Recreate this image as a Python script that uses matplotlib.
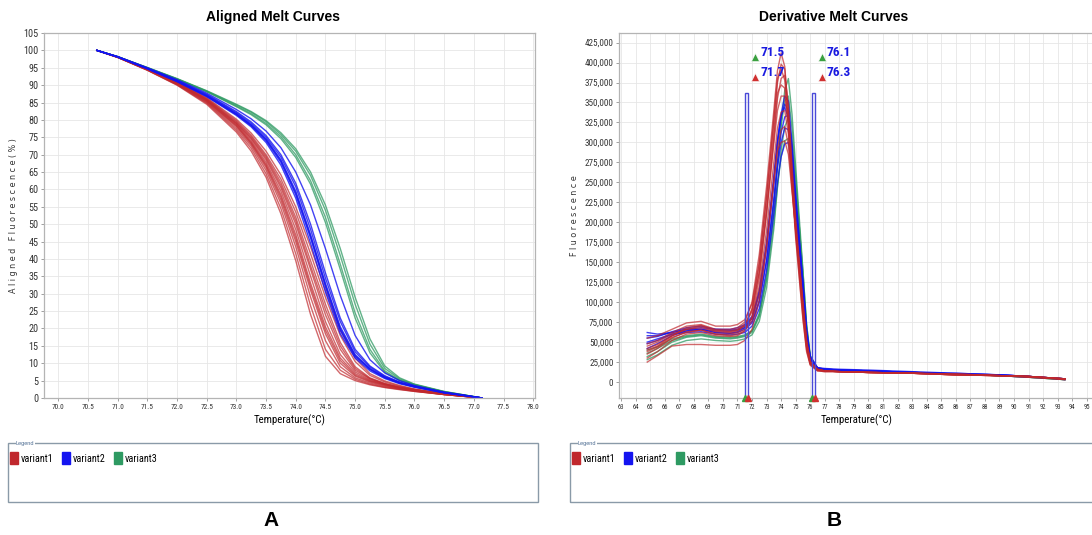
import numpy as np
import matplotlib
matplotlib.use("Agg")
import matplotlib.pyplot as plt
import matplotlib.transforms as mtransforms
from matplotlib import font_manager
from matplotlib.patches import Rectangle, Patch
from matplotlib.ticker import FuncFormatter, MultipleLocator

_fonts = {f.name for f in font_manager.fontManager.ttflist}
NARROW = next((f for f in ["Liberation Sans Narrow", "Roboto Condensed", "DejaVu Sans"]
               if f in _fonts), "DejaVu Sans")
SANS = "Liberation Sans" if "Liberation Sans" in _fonts else "DejaVu Sans"
NARROW_KW = dict(family=NARROW, stretch="condensed")

# ─── data: aligned melt curves (% fluorescence) ──────────────────────────────
melt_temps = [70.65, 71.0, 71.5, 72.0, 72.5, 73.0, 73.25, 73.5, 73.75, 74.0,
              74.25, 74.5, 74.75, 75.0, 75.25, 75.5, 75.75, 76.0, 76.5, 77.14]

variant1_melt = [
    [100, 98.0, 94.3, 90.0, 84.5, 76.5, 71.0, 63.5, 53.0, 39.5, 24.0, 12.0, 7.0, 5.0, 3.8, 3.0, 2.4, 1.9, 1.0, 0],
    [100, 98.0, 94.4, 90.2, 85.0, 77.5, 72.5, 65.5, 56.0, 43.5, 29.0, 16.5, 9.0, 5.8, 4.3, 3.3, 2.6, 2.0, 1.0, 0],
    [100, 98.0, 94.5, 90.5, 85.5, 78.5, 73.6, 67.2, 58.5, 47.0, 33.0, 20.5, 11.5, 7.0, 5.0, 3.8, 2.9, 2.2, 1.1, 0],
    [100, 98.1, 94.6, 90.7, 85.8, 79.0, 74.5, 68.5, 60.5, 50.0, 37.0, 24.0, 14.0, 8.0, 5.5, 4.0, 3.0, 2.3, 1.1, 0],
    [100, 98.1, 94.7, 90.8, 86.0, 79.5, 75.2, 69.5, 62.0, 52.0, 39.5, 27.0, 16.0, 9.0, 5.8, 4.2, 3.2, 2.4, 1.2, 0],
    [100, 98.1, 94.6, 90.6, 85.6, 78.8, 74.0, 67.8, 59.5, 48.5, 35.0, 22.0, 12.5, 7.5, 5.2, 3.9, 3.0, 2.3, 1.1, 0],
    [100, 98.0, 94.4, 90.3, 85.2, 78.0, 73.0, 66.3, 57.0, 45.0, 31.0, 18.5, 10.0, 6.3, 4.6, 3.5, 2.7, 2.1, 1.0, 0],
    [100, 98.1, 94.7, 90.9, 86.2, 79.8, 75.6, 70.0, 63.0, 53.5, 41.5, 29.0, 18.0, 10.5, 6.5, 4.6, 3.4, 2.5, 1.2, 0],
    [100, 98.0, 94.3, 90.1, 84.8, 77.0, 71.8, 64.5, 54.5, 41.5, 26.5, 14.0, 8.0, 5.4, 4.0, 3.1, 2.5, 1.9, 1.0, 0],
    [100, 98.1, 94.6, 90.7, 85.9, 79.2, 74.8, 69.0, 61.2, 51.0, 38.0, 25.5, 15.0, 8.5, 5.6, 4.1, 3.1, 2.4, 1.2, 0],
    [100, 98.0, 94.5, 90.4, 85.4, 78.3, 73.3, 66.8, 57.8, 46.0, 32.0, 19.5, 10.8, 6.6, 4.8, 3.7, 2.8, 2.1, 1.0, 0],
    [100, 98.1, 94.8, 91.0, 86.4, 80.2, 76.2, 71.0, 64.2, 55.0, 43.5, 31.0, 19.5, 11.5, 7.0, 4.9, 3.6, 2.6, 1.3, 0],
]
variant2_melt = [
    [100, 98.1, 94.7, 91.0, 86.7, 81.3, 78.0, 73.5, 67.0, 57.5, 44.5, 30.5, 18.5, 11.5, 7.8, 5.6, 4.1, 3.1, 1.5, 0],
    [100, 98.1, 94.8, 91.2, 87.0, 81.8, 78.6, 74.5, 68.5, 59.5, 47.0, 33.0, 20.5, 12.5, 8.5, 6.0, 4.4, 3.3, 1.6, 0],
    [100, 98.2, 94.9, 91.3, 87.2, 82.1, 79.0, 75.0, 69.3, 60.8, 48.5, 34.5, 22.0, 13.3, 8.9, 6.2, 4.5, 3.4, 1.6, 0],
    [100, 98.1, 94.7, 91.1, 86.8, 81.5, 78.3, 74.0, 67.8, 58.5, 46.0, 32.0, 19.5, 12.0, 8.2, 5.8, 4.3, 3.2, 1.5, 0],
    [100, 98.2, 94.9, 91.4, 87.4, 82.4, 79.4, 75.5, 70.0, 61.8, 50.0, 36.0, 23.0, 14.0, 9.2, 6.4, 4.6, 3.4, 1.6, 0],
    [100, 98.1, 94.8, 91.1, 86.9, 81.7, 78.5, 74.3, 68.2, 59.0, 46.5, 32.5, 20.0, 12.2, 8.3, 5.9, 4.3, 3.2, 1.5, 0],
    [100, 98.2, 95.0, 91.6, 87.7, 83.0, 80.3, 76.8, 72.0, 65.0, 55.5, 43.0, 29.5, 18.0, 11.0, 7.2, 5.0, 3.6, 1.7, 0],
]
variant3_melt = [
    [100, 98.2, 95.0, 91.8, 88.2, 84.0, 81.8, 79.0, 75.2, 70.0, 62.5, 52.0, 38.5, 24.5, 14.0, 7.8, 5.2, 3.8, 1.8, 0],
    [100, 98.2, 95.0, 91.8, 88.3, 84.3, 82.2, 79.5, 75.8, 71.0, 64.0, 54.0, 41.0, 27.0, 15.5, 8.5, 5.5, 3.9, 1.8, 0],
    [100, 98.2, 95.1, 91.9, 88.4, 84.5, 82.4, 79.8, 76.3, 71.7, 65.0, 55.5, 43.0, 29.0, 17.0, 9.2, 5.8, 4.0, 1.9, 0],
    [100, 98.2, 95.0, 91.7, 88.1, 83.8, 81.5, 78.6, 74.6, 69.2, 61.5, 50.5, 37.0, 23.0, 13.0, 7.4, 5.0, 3.7, 1.8, 0],
]

# ─── data: derivative melt curves (fluorescence, thousands) ──────────────────
deriv_temps = [64.8, 65.5, 66.5, 67.5, 68.5, 69.5, 70.5, 71.0, 71.5, 72.0,
               72.5, 73.0, 73.5, 73.75, 74.0, 74.25, 74.5, 74.75, 75.0, 75.5,
               75.75, 76.0, 76.5, 77.0, 78.0, 80.0, 83.0, 86.0, 89.0, 91.0, 93.5]

variant1_deriv_k = [
    [48, 52, 62, 70, 72, 66, 66, 68, 75, 100, 160, 245, 340, 390, 412, 395, 335, 255, 185, 80, 40, 22, 14, 13, 13, 12, 11, 9, 8, 7, 3],
    [40, 45, 58, 66, 68, 63, 62, 64, 70, 92, 148, 232, 325, 375, 398, 392, 340, 262, 195, 88, 44, 23, 15, 14, 13, 12, 11, 10, 8, 6, 4],
    [30, 38, 52, 60, 62, 58, 57, 58, 64, 82, 130, 210, 305, 355, 380, 384, 345, 272, 205, 98, 50, 25, 15, 14, 13, 12, 11, 9, 8, 7, 4],
    [45, 50, 60, 66, 70, 64, 64, 66, 72, 90, 138, 212, 298, 340, 358, 358, 322, 255, 195, 92, 46, 24, 15, 14, 13, 12, 11, 10, 8, 7, 4],
    [35, 42, 55, 63, 65, 60, 60, 62, 66, 80, 120, 190, 275, 318, 338, 340, 310, 250, 195, 96, 50, 25, 16, 14, 13, 12, 11, 9, 8, 7, 4],
    [25, 33, 45, 47, 47, 46, 46, 47, 52, 66, 102, 168, 250, 292, 316, 320, 296, 242, 190, 96, 50, 25, 15, 14, 13, 12, 11, 9, 8, 6, 3],
    [55, 58, 66, 74, 76, 70, 70, 72, 78, 98, 150, 232, 330, 380, 392, 378, 322, 245, 180, 78, 38, 21, 14, 13, 13, 12, 11, 9, 8, 7, 4],
    [38, 44, 56, 62, 65, 60, 58, 60, 64, 76, 110, 172, 252, 290, 300, 302, 285, 238, 192, 100, 52, 26, 16, 14, 13, 12, 11, 10, 8, 7, 4],
    [42, 47, 58, 68, 71, 65, 63, 65, 71, 88, 138, 218, 312, 362, 372, 368, 325, 252, 190, 88, 44, 23, 15, 14, 13, 12, 11, 9, 8, 7, 4],
]
variant2_deriv_k = [
    [62, 60, 62, 66, 68, 66, 66, 68, 72, 82, 112, 170, 252, 300, 335, 358, 352, 300, 235, 122, 62, 30, 18, 17, 16, 15, 13, 11, 9, 7, 4],
    [55, 57, 63, 68, 70, 66, 65, 66, 70, 80, 110, 168, 250, 298, 332, 348, 340, 288, 225, 112, 56, 28, 17, 16, 15, 14, 12, 10, 9, 7, 4],
    [48, 52, 60, 64, 66, 62, 61, 62, 66, 74, 100, 152, 230, 276, 312, 332, 334, 290, 232, 125, 65, 31, 18, 16, 15, 14, 12, 10, 9, 7, 4],
    [58, 58, 62, 66, 66, 64, 64, 65, 68, 76, 102, 152, 226, 268, 300, 318, 316, 276, 222, 118, 60, 30, 17, 16, 15, 14, 12, 11, 9, 7, 3],
    [42, 48, 58, 64, 66, 62, 61, 63, 68, 80, 115, 176, 258, 304, 334, 344, 330, 274, 212, 105, 52, 27, 17, 16, 15, 14, 12, 10, 8, 6, 4],
    [50, 54, 60, 62, 63, 60, 59, 60, 62, 70, 92, 140, 210, 250, 282, 298, 300, 266, 222, 125, 66, 32, 18, 16, 15, 14, 12, 10, 9, 7, 4],
]
variant3_deriv_k = [
    [32, 38, 50, 56, 58, 55, 54, 55, 57, 62, 82, 130, 215, 272, 325, 365, 380, 335, 270, 140, 72, 33, 17, 15, 14, 13, 12, 10, 8, 6, 3],
    [36, 42, 52, 57, 59, 56, 55, 56, 58, 64, 86, 136, 220, 274, 320, 352, 358, 318, 258, 132, 68, 31, 16, 15, 14, 13, 12, 10, 8, 6, 3],
    [28, 34, 46, 52, 54, 52, 51, 52, 54, 59, 76, 118, 192, 244, 290, 320, 330, 300, 252, 138, 72, 33, 17, 15, 14, 13, 12, 10, 8, 7, 4],
    [40, 44, 54, 58, 60, 57, 56, 57, 59, 64, 84, 128, 200, 245, 282, 302, 305, 276, 232, 122, 64, 30, 16, 15, 14, 13, 12, 10, 8, 6, 3],
]

variant_names = ["variant1", "variant2", "variant3"]
variant_colors = ["#c0282d", "#1414f0", "#2e9a62"]

# cursor pairs (peak-call windows) and their bar height
cursor_left = [71.5, 71.7]
cursor_right = [76.1, 76.3]
cursor_top = 362000

# ─── figure ───────────────────────────────────────────────────────────────────
W, H = 1092, 535
fig = plt.figure(figsize=(W / 100, H / 100), dpi=100)
fig.patch.set_facecolor("white")


def px_box(x0, y0, x1, y1):
    return [x0 / W, 1 - y1 / H, (x1 - x0) / W, (y1 - y0) / H]


def style_axes(ax):
    ax.grid(True, color="#e6e6e6", lw=0.6)
    ax.set_axisbelow(True)
    for s in ax.spines.values():
        s.set_color("#b4b4b4")
        s.set_linewidth(0.9)
    ax.tick_params(length=2, width=0.6, color="#909090", pad=2, labelcolor="#333333")


def narrow_ticks(labels, size):
    for lab in labels:
        lab.set_fontfamily(NARROW)
        lab.set_fontstretch("condensed")
        lab.set_fontsize(size)


# ─── A: aligned melt curves ─────────────────────────────────────────────────
ax1 = fig.add_axes(px_box(44, 33, 535, 398))
style_axes(ax1)
for curves, color, alpha in [(variant1_melt, variant_colors[0], 0.7),
                             (variant3_melt, variant_colors[2], 0.75),
                             (variant2_melt, variant_colors[1], 0.8)]:
    for ys in curves:
        ax1.plot(melt_temps, ys, color=color, lw=1.0, alpha=alpha)
ax1.set_xlim(69.76, 78.03)
ax1.set_ylim(0, 105)
ax1.xaxis.set_major_locator(MultipleLocator(0.5))
ax1.yaxis.set_major_locator(MultipleLocator(5))
ax1.xaxis.set_major_formatter(FuncFormatter(lambda v, p: f"{v:.1f}"))
narrow_ticks(ax1.get_xticklabels(), 5.3)
narrow_ticks(ax1.get_yticklabels(), 7.3)
ax1.set_xlabel("Temperature(°C)", fontsize=7.8, labelpad=3, **NARROW_KW)
ax1.set_ylabel("A l i g n e d   F l u o r e s c e n c e ( % )", fontsize=5.8,
               family="DejaVu Sans", color="#333333")
ax1.yaxis.set_label_coords(-0.052, 0.5)

# ─── B: derivative melt curves ──────────────────────────────────────────────
ax2 = fig.add_axes(px_box(619, 33, 1094, 398))
style_axes(ax2)
for curves, color, alpha in [(variant3_deriv_k, variant_colors[2], 0.75),
                             (variant2_deriv_k, variant_colors[1], 0.8),
                             (variant1_deriv_k, variant_colors[0], 0.7)]:
    for ys in curves:
        ax2.plot(deriv_temps, np.array(ys) * 1000, color=color, lw=1.0, alpha=alpha)
ax2.set_xlim(62.86, 95.5)
ax2.set_ylim(-20000, 437000)
ax2.xaxis.set_major_locator(MultipleLocator(1))
ax2.set_yticks(np.arange(0, 425001, 25000))
ax2.yaxis.set_major_formatter(FuncFormatter(lambda v, p: f"{v:,.0f}"))
narrow_ticks(ax2.get_xticklabels(), 4.8)
narrow_ticks(ax2.get_yticklabels(), 6.6)
ax2.set_xlabel("Temperature(°C)", fontsize=7.8, labelpad=3, **NARROW_KW)
ax2.set_ylabel("F l u o r e s c e n c e", fontsize=5.8, family="DejaVu Sans",
               color="#333333")
ax2.yaxis.set_label_coords(-0.085, 0.5)

# cursor windows
ybot = ax2.get_ylim()[0]
for pair in (cursor_left, cursor_right):
    ax2.add_patch(Rectangle((pair[0], ybot), pair[1] - pair[0], cursor_top - ybot,
                            fill=False, edgecolor="#4a4ad8", lw=1.0, zorder=5))
    ax2.plot([pair[0]], [ybot], marker="^", ms=5, color="#3aa040", clip_on=False, zorder=6)
    ax2.plot([pair[1]], [ybot], marker="^", ms=5, color="#d03030", clip_on=False, zorder=6)
    for val, ycur, mcol in [(pair[0], 407000, "#3aa040"), (pair[1], 382000, "#d03030")]:
        off = mtransforms.offset_copy(ax2.transData, fig=fig, x=7.2, y=0, units="points")
        ax2.plot([pair[0]], [ycur], marker="^", ms=5.5, color=mcol, mec="#ffffff",
                 mew=0.4, transform=off, zorder=6)
        ax2.annotate(f"{val:.1f}", xy=(pair[0], ycur), xytext=(11, 3.5),
                     textcoords="offset points", color="#1a1ae0", fontsize=9.5,
                     fontweight="bold", va="center", zorder=7, **NARROW_KW)

# ─── titles & panel letters ───────────────────────────────────────────────
fig.text(273 / W, 1 - 17 / H, "Aligned Melt Curves", ha="center", va="center",
         fontsize=10, fontweight="bold", family=SANS, stretch="condensed")
fig.text(834 / W, 1 - 17 / H, "Derivative Melt Curves", ha="center", va="center",
         fontsize=10, fontweight="bold", family=SANS, stretch="condensed")
fig.text(271 / W, 1 - 520 / H, "A", ha="center", va="center", fontsize=15,
         fontweight="bold", family=SANS)
fig.text(834 / W, 1 - 520 / H, "B", ha="center", va="center", fontsize=15,
         fontweight="bold", family=SANS)

# ─── legend boxes ─────────────────────────────────────────────────────────
handles = [Patch(facecolor=c, edgecolor=c) for c in variant_colors]
for x0, x1 in [(8, 538), (570, 1100)]:
    fig.patches.append(Rectangle((x0 / W, 1 - 502 / H), (x1 - x0) / W, 59 / H,
                                 transform=fig.transFigure, fill=False,
                                 edgecolor="#8a9aa8", lw=1.0))
    fig.text((x0 + 8) / W, 1 - 443 / H, "Legend", fontsize=4, color="#4a6a90",
             va="center", family=SANS,
             bbox=dict(facecolor="white", edgecolor="none", pad=0.3))
    fig.legend(handles, variant_names, loc="upper left",
               bbox_to_anchor=((x0 - 2) / W, 1 - 448 / H), ncol=3, frameon=False,
               prop={"family": NARROW, "stretch": "condensed", "size": 7.3},
               handlelength=0.75, handleheight=1.5, handletextpad=0.35,
               columnspacing=0.8, borderaxespad=0)

fig.savefig("out.png", dpi=100)
